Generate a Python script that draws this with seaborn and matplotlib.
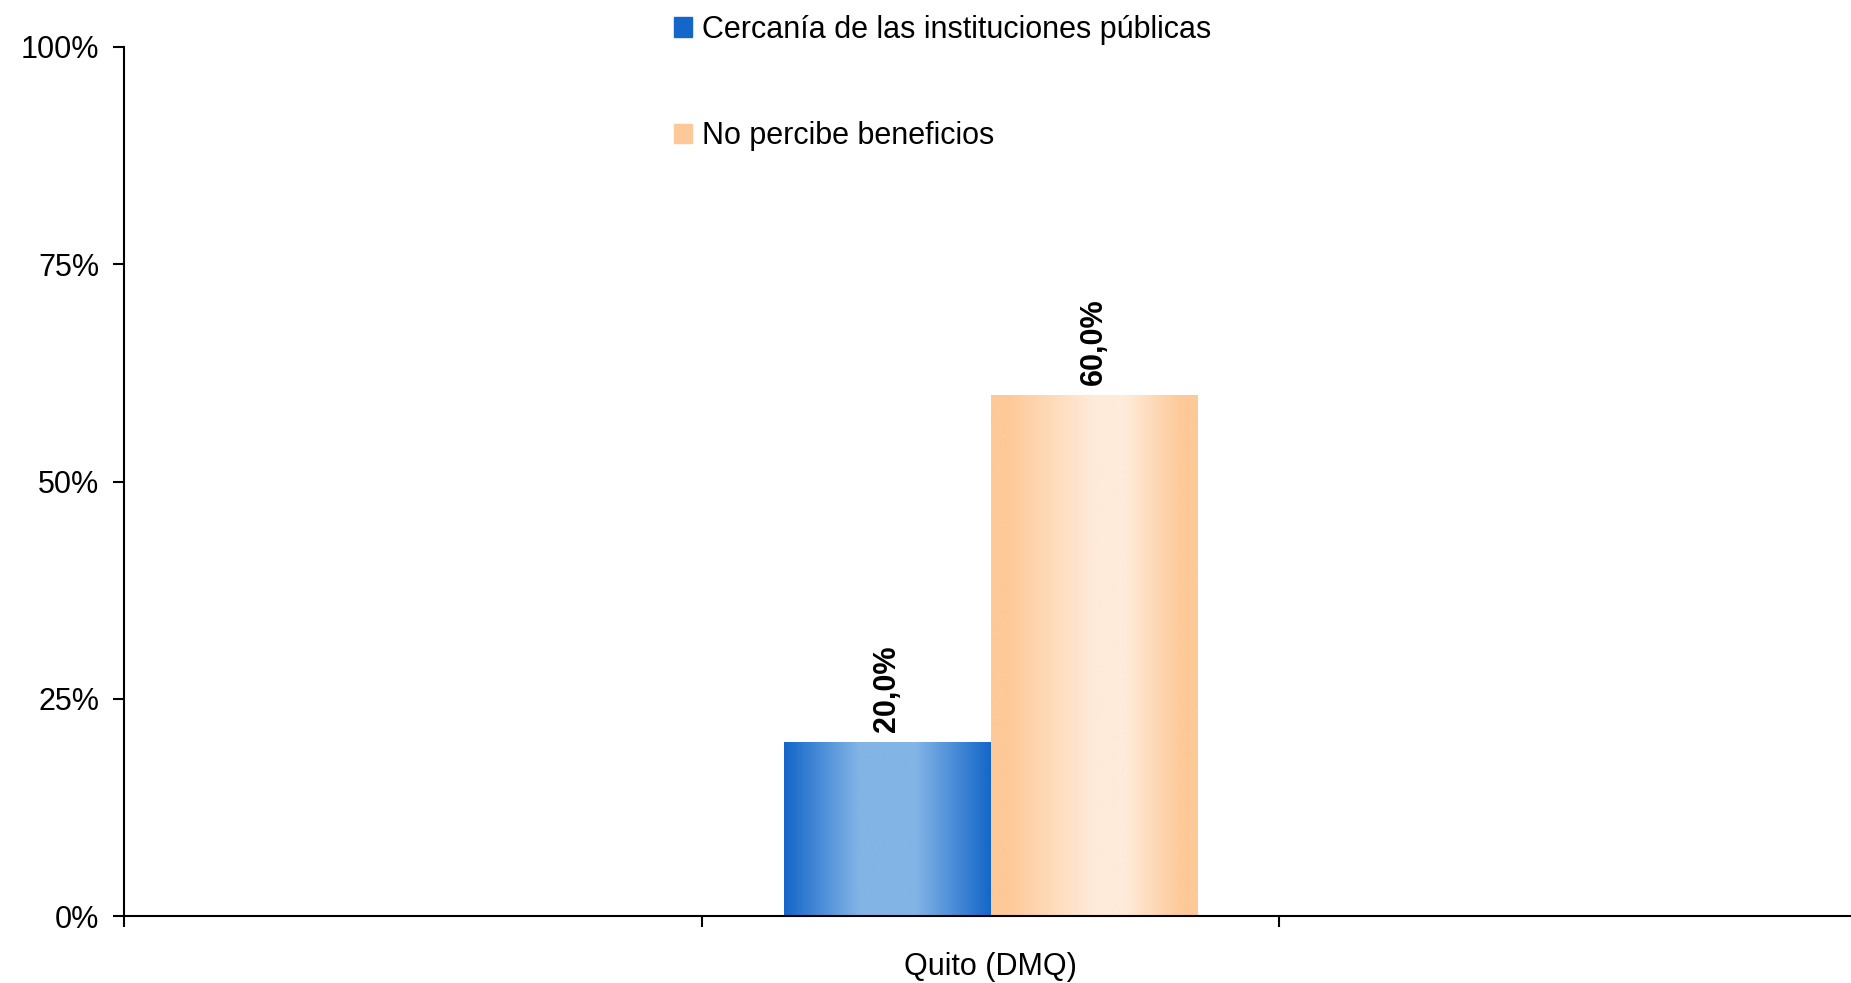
import matplotlib
matplotlib.use("Agg")
import matplotlib.pyplot as plt
import numpy as np
import pandas as pd
import seaborn as sns
from matplotlib.colors import to_rgb
from matplotlib.patches import Patch

# ---------------------------------------------------------------------------
# Datos
# ---------------------------------------------------------------------------
categories = ["", "Quito (DMQ)", " "]
region = "Quito (DMQ)"
series = ["Cercanía de las instituciones públicas", "No percibe beneficios"]
values = [20.0, 60.0]
y_ticks = [0, 25, 50, 75, 100]

df = pd.DataFrame({"region": [region] * len(series), "serie": series, "valor": values})

# colores (borde oscuro, centro claro) del degradado de cada serie
dark_colors = ["#1466C9", "#FDC998"]
light_colors = ["#82B4E6", "#FFEBDA"]
profiles = [
    ([0.0, 0.36, 0.64, 1.0], [0.0, 1.0, 1.0, 0.0]),
    ([0.0, 0.08, 0.5, 0.65, 0.92, 1.0], [0.0, 0.0, 1.0, 1.0, 0.0, 0.0]),
]

sns.set_theme(style="white")
plt.rcParams["font.family"] = ["Liberation Sans", "DejaVu Sans"]
plt.rcParams["text.color"] = "black"
plt.rcParams["xtick.labelcolor"] = "black"
plt.rcParams["ytick.labelcolor"] = "black"

W, H = 1851, 983
fig = plt.figure(figsize=(W / 100, H / 100), dpi=100)
ax = fig.add_axes([124 / W, 1 - 916 / H, (1857 - 124) / W, (916 - 47) / H])

palette = dict(zip(series, dark_colors))
sns.barplot(
    data=df, x="region", y="valor", hue="serie",
    order=categories, hue_order=series, palette=palette,
    width=0.714, gap=0, saturation=1, errorbar=None,
    linewidth=0, legend=False, ax=ax,
)

# degradado horizontal dentro de cada barra
t = np.linspace(0, 1, 256)
for cont, dk, lt, (px, pw) in zip(ax.containers, dark_colors, light_colors, profiles):
    w = np.interp(t, px, pw)[:, None]
    rgb = np.array(to_rgb(dk)) * (1 - w) + np.array(to_rgb(lt)) * w
    img = rgb[None, :, :]
    for patch in cont:
        x0, y0 = patch.get_x(), patch.get_y()
        x1, y1 = x0 + patch.get_width(), y0 + patch.get_height()
        im = ax.imshow(img, extent=[x0, x1, y0, y1], aspect="auto",
                       interpolation="bilinear", zorder=patch.get_zorder() + 0.1)
        im.set_clip_path(patch)
    ax.bar_label(cont, labels=[f"{v:.1f}%".replace(".", ",") for v in cont.datavalues],
                 rotation=90, padding=7, fontsize=22, fontweight="bold", color="black")

# ejes
ax.set_xlim(-0.5, 2.5)
ax.set_ylim(0, 100)
ax.set_xticks([-0.5, 0.5, 1.5, 2.5])
ax.set_xticklabels([])
ax.set_xticks([0, 1, 2], minor=True)
ax.set_xticklabels(categories, minor=True, fontsize=22)
ax.tick_params(axis="x", which="major", direction="out", length=8, width=1.5,
               color="black", bottom=True)
ax.tick_params(axis="x", which="minor", length=0, pad=26, bottom=True)
ax.set_yticks(y_ticks)
ax.set_yticklabels([f"{v}%" for v in y_ticks], fontsize=22)
ax.tick_params(axis="y", direction="out", length=8, width=1.5, color="black",
               left=True, pad=10)
ax.set_xlabel("")
ax.set_ylabel("")
sns.despine(ax=ax)
for side in ("left", "bottom"):
    ax.spines[side].set_color("black")
    ax.spines[side].set_linewidth(1.5)

handles = [Patch(facecolor=d, edgecolor=d) for d in dark_colors]
fig.legend(handles, series, loc="upper left", bbox_to_anchor=(674 / W, 0.985),
           frameon=False, fontsize=22, handlelength=0.6, handleheight=0.6,
           handletextpad=0.3, labelspacing=2.5, borderaxespad=0, borderpad=0)

fig.savefig("out.png", dpi=100)
